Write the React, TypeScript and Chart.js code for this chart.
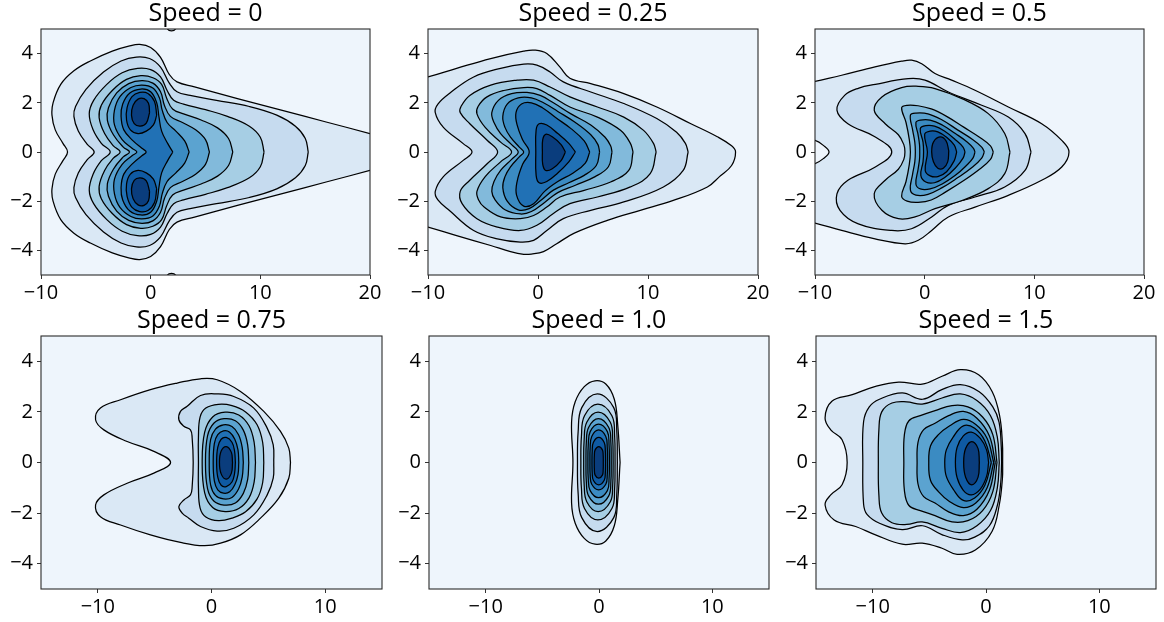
import React, { useEffect, useRef } from 'react';
import { Chart, registerables } from 'chart.js';

Chart.register(...registerables);

// ---------- data ----------
const levelColors = ['#eef5fc', '#dae8f5', '#c6dbef', '#a6cee4', '#82badb', '#5ba3d0', '#3b8bc2', '#2171b5', '#0f5aa3', '#0a3d7d'];
const titles = ['Speed = 0', 'Speed = 0.25', 'Speed = 0.5', 'Speed = 0.75', 'Speed = 1.0', 'Speed = 1.5'];
const yTicks = [-4, -2, 0, 2, 4];
const xTicksTop = [-10, 0, 10, 20];
const xTicksBottom = [-10, 0, 10];
const xRangeTop = [-10, 20];
const xRangeBottom = [-15, 15];
const yRange = [-5, 5];

type Pt = [number, number];

// Speed = 0
const s0L1: Pt[] = [[21,0.63],[20,0.75],[16,1.22],[12,1.69],[8,2.16],[4,2.65],[2.4,2.85],[1.7,3.15],[0.9,3.85],[0,4.25],[-1,4.37],[-2,4.3],[-3.5,4.1],[-5.5,3.7],[-7,3.3],[-8.2,2.75],[-8.9,2.0],[-9.0,1.5],[-8.7,0.9],[-8.0,0.35],[-7.58,0],[-8.0,-0.35],[-8.7,-0.9],[-9.0,-1.5],[-8.9,-2.0],[-8.2,-2.75],[-7,-3.3],[-5.5,-3.7],[-3.5,-4.1],[-2,-4.3],[-1,-4.37],[0,-4.25],[0.9,-3.85],[1.7,-3.15],[2.4,-2.85],[4,-2.65],[8,-2.16],[12,-1.69],[16,-1.22],[20,-0.75],[21,-0.63],[21,0.63]];
const s0L1top: Pt[] = [[1.2,5.4],[1.5,5.02],[1.9,4.92],[2.3,5.02],[2.6,5.4],[1.2,5.4]];
const s0L1bot: Pt[] = [[1.2,-5.4],[1.5,-5.02],[1.9,-4.93],[2.3,-5.02],[2.6,-5.4],[1.2,-5.4]];
const s0L2: Pt[] = [[14.37,0],[14.1,0.55],[13.2,1.05],[11.5,1.5],[9,1.85],[6,2.1],[3.6,2.3],[2.4,2.45],[1.7,2.8],[0.9,3.45],[-0.1,3.8],[-1.3,3.86],[-2.7,3.7],[-4.3,3.25],[-5.9,2.55],[-6.85,1.85],[-7.0,1.45],[-6.6,0.85],[-5.8,0.32],[-5.15,0],[-5.8,-0.32],[-6.6,-0.85],[-7.0,-1.45],[-6.85,-1.85],[-5.9,-2.55],[-4.3,-3.25],[-2.7,-3.7],[-1.3,-3.86],[-0.1,-3.8],[0.9,-3.45],[1.7,-2.8],[2.4,-2.45],[3.6,-2.3],[6,-2.1],[9,-1.85],[11.5,-1.5],[13.2,-1.05],[14.1,-0.55],[14.37,0]];
const s0L3: Pt[] = [[10.34,0],[10.0,0.6],[9.0,1.05],[7.0,1.45],[5.0,1.72],[3.0,1.95],[2.1,2.1],[1.5,2.5],[0.9,3.05],[0,3.35],[-1.2,3.4],[-2.6,3.22],[-4.0,2.75],[-5.2,2.1],[-5.6,1.55],[-5.25,0.9],[-4.5,0.35],[-3.69,0],[-4.5,-0.35],[-5.25,-0.9],[-5.6,-1.55],[-5.2,-2.1],[-4.0,-2.75],[-2.6,-3.22],[-1.2,-3.4],[0,-3.35],[0.9,-3.05],[1.5,-2.5],[2.1,-2.1],[3.0,-1.95],[5.0,-1.72],[7.0,-1.45],[9.0,-1.05],[10.0,-0.6],[10.34,0]];
const s0L4: Pt[] = [[7.49,0],[7.1,0.55],[6.1,0.98],[4.6,1.3],[3.0,1.55],[2.0,1.75],[1.45,2.2],[1.0,2.75],[0.2,3.02],[-0.9,3.1],[-2.2,2.95],[-3.5,2.5],[-4.5,1.9],[-4.7,1.4],[-4.2,0.75],[-3.4,0.25],[-2.78,0],[-3.4,-0.25],[-4.2,-0.75],[-4.7,-1.4],[-4.5,-1.9],[-3.5,-2.5],[-2.2,-2.95],[-0.9,-3.1],[0.2,-3.02],[1.0,-2.75],[1.45,-2.2],[2.0,-1.75],[3.0,-1.55],[4.6,-1.3],[6.1,-0.98],[7.1,-0.55],[7.49,0]];
const s0L5: Pt[] = [[5.36,0],[5.0,0.5],[4.1,0.9],[2.9,1.2],[1.8,1.45],[1.25,1.9],[0.9,2.45],[0.2,2.8],[-0.8,2.9],[-2.0,2.78],[-3.1,2.4],[-3.85,1.8],[-3.95,1.3],[-3.4,0.7],[-2.5,0.2],[-1.93,0],[-2.5,-0.2],[-3.4,-0.7],[-3.95,-1.3],[-3.85,-1.8],[-3.1,-2.4],[-2.0,-2.78],[-0.8,-2.9],[0.2,-2.8],[0.9,-2.45],[1.25,-1.9],[1.8,-1.45],[2.9,-1.2],[4.1,-0.9],[5.0,-0.5],[5.36,0]];
const s0L6: Pt[] = [[3.51,0],[3.1,0.45],[2.3,0.85],[1.5,1.2],[1.05,1.7],[0.8,2.2],[0.2,2.6],[-0.8,2.72],[-1.8,2.62],[-2.8,2.25],[-3.3,1.7],[-3.3,1.1],[-2.6,0.5],[-1.7,0.15],[-1.26,0],[-1.7,-0.15],[-2.6,-0.5],[-3.3,-1.1],[-3.3,-1.7],[-2.8,-2.25],[-1.8,-2.62],[-0.8,-2.72],[0.2,-2.6],[0.8,-2.2],[1.05,-1.7],[1.5,-1.2],[2.3,-0.85],[3.1,-0.45],[3.51,0]];
const s0L7: Pt[] = [[2.02,0],[1.55,0.35],[1.0,0.85],[0.75,1.45],[0.55,2.0],[0.0,2.45],[-0.9,2.56],[-1.9,2.4],[-2.55,1.95],[-2.7,1.45],[-2.45,0.9],[-1.6,0.45],[-0.8,0.15],[-0.41,0],[-0.8,-0.15],[-1.6,-0.45],[-2.45,-0.9],[-2.7,-1.45],[-2.55,-1.95],[-1.9,-2.4],[-0.9,-2.56],[0.0,-2.45],[0.55,-2.0],[0.75,-1.45],[1.0,-0.85],[1.55,-0.35],[2.02,0]];
const s0L8a: Pt[] = [[0.55,1.5],[0.35,2.05],[-0.25,2.38],[-1.0,2.42],[-1.7,2.25],[-2.15,1.8],[-2.2,1.3],[-1.85,0.9],[-1.15,0.75],[-0.4,0.85],[0.25,1.1],[0.55,1.5]];
const s0L8b: Pt[] = [[0.55,-1.5],[0.35,-2.05],[-0.25,-2.38],[-1.0,-2.42],[-1.7,-2.25],[-2.15,-1.8],[-2.2,-1.3],[-1.85,-0.9],[-1.15,-0.75],[-0.4,-0.85],[0.25,-1.1],[0.55,-1.5]];
const s0L9a: Pt[] = [[-0.1,1.6],[-0.2,1.98],[-0.6,2.17],[-1.15,2.15],[-1.6,1.9],[-1.75,1.5],[-1.5,1.15],[-0.95,1.05],[-0.4,1.17],[-0.1,1.6]];
const s0L9b: Pt[] = [[-0.1,-1.6],[-0.2,-1.98],[-0.6,-2.17],[-1.15,-2.15],[-1.6,-1.9],[-1.75,-1.5],[-1.5,-1.15],[-0.95,-1.05],[-0.4,-1.17],[-0.1,-1.6]];

// Speed = 0.25
const s25L1: Pt[] = [[-11,2.95],[-10,3.05],[-7.4,3.4],[-4.3,3.8],[-1.3,4.1],[-0.3,4.14],[0.8,4.0],[2.0,3.45],[2.9,3.0],[4.8,2.78],[7.8,2.37],[10.8,1.83],[13.9,1.15],[16.3,0.62],[17.6,0.25],[17.96,0],[17.6,-0.55],[16.5,-1.0],[15.4,-1.42],[12.3,-1.97],[9.3,-2.37],[6.3,-2.78],[3.3,-3.3],[1.7,-3.73],[0.5,-4.05],[-0.6,-4.15],[-1.3,-4.16],[-2.5,-4.05],[-4.3,-3.8],[-7.4,-3.4],[-10,-3.05],[-11,-2.95],[-11,2.95]];
const s25L2: Pt[] = [[13.65,0],[13.4,0.35],[12.6,0.8],[10.8,1.36],[7.8,1.97],[4.8,2.44],[2.3,2.85],[1.1,3.25],[-0.1,3.53],[-1.3,3.57],[-3.4,3.4],[-5.85,3.05],[-8.0,2.4],[-9.1,1.95],[-9.34,1.6],[-8.6,1.0],[-6.8,0.34],[-6.0,0],[-6.8,-0.34],[-8.6,-1.0],[-9.34,-1.6],[-9.1,-1.95],[-8.0,-2.4],[-5.85,-3.19],[-3.7,-3.53],[-1.6,-3.66],[-0.4,-3.59],[0.8,-3.19],[2.3,-2.71],[4.8,-2.37],[7.8,-2.03],[11.4,-1.42],[13.2,-0.75],[13.65,0]];
const s25L3: Pt[] = [[10.74,0],[10.5,0.35],[9.6,0.88],[7.8,1.42],[5.4,1.83],[2.9,2.24],[1.1,2.64],[-0.4,2.92],[-1.9,2.92],[-4.3,2.72],[-6.2,2.3],[-7.0,1.85],[-7.07,1.6],[-6.2,1.15],[-4.6,0.47],[-3.67,0],[-4.6,-0.47],[-6.2,-1.15],[-7.07,-1.6],[-6.9,-2.1],[-5.55,-2.71],[-3.7,-3.05],[-1.6,-3.19],[-0.1,-2.98],[1.4,-2.5],[2.9,-2.1],[5.4,-1.83],[8.4,-1.42],[10.2,-0.88],[10.74,0]];
const s25L4: Pt[] = [[8.64,0],[8.4,0.35],[7.5,0.88],[5.4,1.42],[2.9,1.83],[1.1,2.3],[-0.1,2.58],[-1.3,2.62],[-3.1,2.5],[-4.64,2.24],[-5.45,1.85],[-5.55,1.55],[-4.8,1.0],[-3.4,0.4],[-2.4,0],[-3.4,-0.4],[-4.8,-1.0],[-5.55,-1.6],[-5.4,-1.95],[-4.9,-2.24],[-3.4,-2.64],[-1.6,-2.71],[-0.4,-2.58],[0.8,-2.24],[2.0,-1.83],[4.2,-1.56],[6.6,-1.22],[8.25,-0.75],[8.64,0]];
const s25L5: Pt[] = [[6.73,0],[6.6,0.25],[6.1,0.6],[4.8,1.1],[3.0,1.55],[1.4,2.0],[0.2,2.3],[-1.0,2.42],[-2.4,2.37],[-3.6,2.1],[-4.2,1.6],[-4.0,1.2],[-3.4,0.75],[-2.4,0.3],[-1.8,0],[-2.4,-0.3],[-3.4,-0.75],[-4.0,-1.2],[-4.2,-1.6],[-3.9,-1.95],[-3.0,-2.35],[-1.6,-2.52],[-0.6,-2.42],[0.6,-2.05],[1.8,-1.65],[3.4,-1.35],[5.2,-1.0],[6.4,-0.6],[6.73,0]];
const s25L6: Pt[] = [[5.6,0],[5.45,0.3],[4.8,0.7],[3.4,1.2],[1.8,1.65],[0.5,2.0],[-0.6,2.2],[-1.8,2.2],[-2.8,1.95],[-3.2,1.45],[-3.0,1.0],[-2.5,0.6],[-1.7,0.2],[-1.3,0],[-1.7,-0.2],[-2.5,-0.6],[-3.0,-1.0],[-3.2,-1.45],[-2.8,-2.0],[-1.8,-2.35],[-0.8,-2.3],[0.3,-1.95],[1.4,-1.55],[2.8,-1.25],[4.2,-0.95],[5.3,-0.55],[5.6,0]];
const s25L7: Pt[] = [[4.7,0],[4.2,0.45],[3.0,0.95],[1.6,1.4],[0.4,1.8],[-0.6,2.0],[-1.5,1.95],[-2.0,1.6],[-1.9,1.1],[-1.4,0.5],[-0.8,0],[-1.4,-0.5],[-1.9,-1.2],[-1.95,-1.75],[-1.3,-2.2],[-0.4,-2.1],[0.6,-1.6],[1.8,-1.2],[3.2,-0.85],[4.3,-0.45],[4.7,0]];
const s25L8: Pt[] = [[3.4,0],[2.8,0.35],[1.8,0.75],[0.8,1.1],[0.1,1.15],[-0.17,0.9],[-0.2,0],[-0.17,-0.95],[0.1,-1.25],[0.8,-1.2],[1.8,-0.85],[2.8,-0.4],[3.4,0]];
const s25L9: Pt[] = [[2.49,0],[2.1,0.3],[1.3,0.62],[0.7,0.72],[0.43,0.5],[0.4,0],[0.43,-0.5],[0.7,-0.75],[1.3,-0.68],[2.1,-0.35],[2.49,0]];

// Speed = 0.5
const s5L1: Pt[] = [[-11,2.75],[-10,2.87],[-7.57,3.12],[-4.53,3.46],[-2.1,3.69],[-1.19,3.73],[-0.27,3.59],[0.94,3.19],[2.46,2.92],[4.59,2.51],[7.63,1.83],[10.67,1.15],[12.5,0.47],[13.16,0],[12.5,-0.61],[10.67,-1.15],[7.63,-1.76],[4.59,-2.24],[2.16,-2.64],[0.64,-3.19],[-0.58,-3.59],[-1.79,-3.73],[-4.53,-3.53],[-7.57,-3.19],[-10,-2.89],[-11,-2.8],[-11,-0.5],[-10,-0.47],[-9.24,-0.27],[-8.72,0],[-9.24,0.27],[-10,0.47],[-11,0.5],[-11,2.75]];
const s5L2: Pt[] = [[9.7,0],[9.15,0.75],[7.63,1.42],[5.2,1.9],[2.16,2.44],[0.03,2.92],[-1.5,2.98],[-4.5,2.75],[-6.0,2.6],[-7.3,2.3],[-8.0,1.7],[-7.0,1.15],[-4.5,0.61],[-3.0,0],[-4.5,-0.61],[-7.0,-1.15],[-8.0,-1.7],[-7.72,-2.37],[-6.05,-2.92],[-3.0,-3.19],[-1.2,-3.12],[0.64,-2.64],[2.16,-2.17],[4.59,-1.83],[7.3,-1.42],[9.15,-0.75],[9.7,0]];
const s5L3: Pt[] = [[7.78,0],[7.3,0.75],[5.8,1.56],[3.4,2.17],[0.94,2.58],[-0.58,2.67],[-2.1,2.62],[-3.9,2.24],[-4.6,1.7],[-3.6,1.15],[-2.4,0.7],[-1.9,0.3],[-1.8,0],[-1.9,-0.3],[-2.4,-0.7],[-3.6,-1.15],[-4.6,-1.7],[-3.9,-2.37],[-2.4,-2.71],[-0.88,-2.64],[0.94,-2.3],[3.4,-1.97],[5.8,-1.49],[7.3,-0.88],[7.78,0]];
const s5L4: Pt[] = [[6.26,0],[6.0,0.25],[5.0,0.6],[3.6,1.0],[2.0,1.45],[0.6,1.75],[-0.6,1.88],[-1.6,1.9],[-2.1,1.8],[-1.7,1.2],[-1.4,0.5],[-1.3,0],[-1.4,-0.5],[-1.7,-1.2],[-2.1,-1.8],[-1.6,-2.0],[-0.6,-2.05],[0.6,-1.95],[2.0,-1.6],[3.6,-1.15],[5.0,-0.7],[6.0,-0.3],[6.26,0]];
const s5L5: Pt[] = [[5.44,0],[5.2,0.2],[4.4,0.5],[3.0,0.9],[1.6,1.3],[0.3,1.55],[-0.8,1.58],[-1.3,1.5],[-1.1,0.9],[-0.9,0.4],[-0.85,0],[-0.9,-0.4],[-1.1,-0.9],[-1.3,-1.55],[-0.8,-1.75],[0.3,-1.72],[1.6,-1.45],[3.0,-1.05],[4.4,-0.6],[5.2,-0.25],[5.44,0]];
const s5L6: Pt[] = [[4.59,0],[4.45,0.15],[3.9,0.4],[2.8,0.75],[1.6,1.1],[0.5,1.3],[-0.4,1.3],[-0.8,1.2],[-0.6,0.7],[-0.47,0.3],[-0.45,0],[-0.47,-0.3],[-0.6,-0.7],[-0.8,-1.3],[-0.4,-1.5],[0.5,-1.5],[1.6,-1.3],[2.8,-0.95],[3.8,-0.55],[4.4,-0.25],[4.59,0]];
const s5L7: Pt[] = [[3.68,0],[3.5,0.2],[2.8,0.5],[1.8,0.85],[0.9,1.05],[0.1,1.07],[-0.4,0.95],[-0.15,0.4],[-0.1,0],[-0.15,-0.4],[-0.35,-0.95],[0.1,-1.22],[0.9,-1.25],[1.8,-1.05],[2.8,-0.65],[3.5,-0.25],[3.68,0]];
const s5L8: Pt[] = [[2.92,0],[2.7,0.28],[2.0,0.6],[1.2,0.82],[0.5,0.85],[0.0,0.72],[0.25,0],[0.05,-0.75],[0.5,-0.97],[1.2,-1.0],[2.0,-0.8],[2.7,-0.35],[2.92,0]];
const s5L9: Pt[] = [[2.2,0.05],[1.95,0.45],[1.4,0.61],[0.8,0.4],[0.64,0],[0.8,-0.4],[1.2,-0.66],[1.7,-0.66],[2.1,-0.4],[2.2,0.05]];

// Speed = 0.75
const s75L1: Pt[] = [[6.95,0],[6.8,0.57],[6.07,1.23],[4.6,2.02],[2.55,2.81],[0.5,3.27],[-0.97,3.31],[-3.02,3.14],[-5.37,2.88],[-8.0,2.48],[-9.77,2.15],[-10.2,1.69],[-9.47,1.29],[-7.42,0.83],[-5.07,0.44],[-3.6,0],[-5.07,-0.42],[-7.42,-0.82],[-9.47,-1.28],[-10.2,-1.68],[-9.77,-2.14],[-8.0,-2.47],[-5.37,-2.86],[-2.73,-3.16],[-0.67,-3.29],[0.8,-3.19],[2.55,-2.86],[4.31,-2.2],[5.92,-1.41],[6.8,-0.62],[6.95,0]];
const s75L2: Pt[] = [[5.48,0],[5.43,0.7],[4.9,1.36],[3.72,2.15],[1.96,2.61],[0.5,2.71],[-0.97,2.65],[-2.14,2.22],[-2.73,2.02],[-2.87,1.69],[-2.43,1.43],[-1.85,1.29],[-1.7,0.96],[-1.61,0],[-1.7,-0.95],[-1.85,-1.28],[-2.43,-1.48],[-2.87,-1.74],[-2.58,-2.0],[-2.0,-2.2],[-0.97,-2.53],[0.5,-2.71],[1.96,-2.6],[3.72,-2.07],[4.9,-1.28],[5.43,-0.62],[5.48,0]];
const s75L3: Pt[] = [[4.6,0],[4.5,0.8],[4.0,1.5],[3.0,2.0],[1.8,2.25],[0.6,2.3],[-0.5,2.15],[-1.0,1.8],[-1.15,1.0],[-1.15,0],[-1.15,-1.0],[-1.0,-1.8],[-0.5,-2.15],[0.6,-2.3],[1.8,-2.2],[3.0,-1.95],[4.0,-1.45],[4.5,-0.8],[4.6,0]];
const s75L4: Pt[] = [[3.87,0],[3.75,0.8],[3.3,1.45],[2.4,1.88],[1.2,1.99],[0.1,1.8],[-0.6,1.2],[-0.82,0],[-0.6,-1.2],[0.1,-1.78],[1.2,-1.94],[2.4,-1.82],[3.3,-1.4],[3.75,-0.78],[3.87,0]];
const s75L5: Pt[] = [[3.28,0],[3.18,0.7],[2.8,1.28],[2.1,1.65],[1.1,1.73],[0.2,1.55],[-0.35,1.05],[-0.53,0],[-0.35,-1.03],[0.2,-1.52],[1.1,-1.68],[2.1,-1.6],[2.8,-1.22],[3.18,-0.68],[3.28,0]];
const s75L6: Pt[] = [[2.8,0],[2.7,0.6],[2.38,1.1],[1.8,1.42],[1.05,1.49],[0.35,1.32],[-0.08,0.9],[-0.2,0],[-0.08,-0.88],[0.35,-1.3],[1.05,-1.44],[1.8,-1.38],[2.38,-1.05],[2.7,-0.58],[2.8,0]];
const s75L7: Pt[] = [[2.4,0],[2.33,0.5],[2.05,0.92],[1.6,1.2],[1.05,1.25],[0.55,1.1],[0.25,0.75],[0.15,0],[0.25,-0.73],[0.55,-1.08],[1.05,-1.21],[1.6,-1.16],[2.05,-0.88],[2.33,-0.48],[2.4,0]];
const s75L8: Pt[] = [[2.1,0],[2.03,0.45],[1.8,0.8],[1.3,0.99],[0.85,0.92],[0.55,0.6],[0.45,0],[0.55,-0.58],[0.85,-0.9],[1.3,-0.95],[1.8,-0.77],[2.03,-0.43],[2.1,0]];
const s75L9: Pt[] = [[1.85,0],[1.75,0.4],[1.3,0.63],[0.85,0.45],[0.7,0],[0.85,-0.45],[1.3,-0.66],[1.75,-0.42],[1.85,0]];

// Speed = 1.0
const s1L1: Pt[] = [[1.86,0],[1.65,1.5],[1.35,2.5],[0.6,3.1],[-0.35,3.23],[-1.3,3.0],[-2.1,2.4],[-2.42,1.6],[-2.3,0],[-2.42,-1.6],[-2.1,-2.4],[-1.3,-3.0],[-0.35,-3.23],[0.6,-3.1],[1.35,-2.5],[1.65,-1.5],[1.86,0]];
const s1L2: Pt[] = [[1.62,0],[1.57,1.22],[1.3,2.17],[-0.15,2.71],[-1.52,2.17],[-1.84,1.22],[-1.9,0],[-1.84,-1.23],[-1.52,-2.18],[-0.15,-2.73],[1.3,-2.18],[1.57,-1.23],[1.62,0]];
const s1L3: Pt[] = [[1.42,0],[1.38,1.04],[1.14,1.85],[-0.1,2.31],[-1.28,1.85],[-1.55,1.04],[-1.6,0],[-1.55,-1.02],[-1.28,-1.82],[-0.1,-2.27],[1.14,-1.82],[1.38,-1.02],[1.42,0]];
const s1L4: Pt[] = [[1.25,0],[1.21,0.9],[1.0,1.59],[-0.08,1.99],[-1.08,1.59],[-1.31,0.9],[-1.35,0],[-1.31,-0.87],[-1.08,-1.55],[-0.08,-1.94],[1.0,-1.55],[1.21,-0.87],[1.25,0]];
const s1L5: Pt[] = [[1.08,0],[1.05,0.78],[0.86,1.38],[-0.05,1.73],[-0.92,1.38],[-1.12,0.78],[-1.15,0],[-1.12,-0.74],[-0.92,-1.32],[-0.05,-1.65],[0.86,-1.32],[1.05,-0.74],[1.08,0]];
const s1L6: Pt[] = [[0.92,0],[0.89,0.68],[0.74,1.22],[-0.04,1.52],[-0.78,1.22],[-0.95,0.68],[-0.98,0],[-0.95,-0.63],[-0.78,-1.11],[-0.04,-1.39],[0.74,-1.11],[0.89,-0.63],[0.92,0]];
const s1L7: Pt[] = [[0.75,0],[0.73,0.58],[0.6,1.03],[-0.03,1.29],[-0.64,1.03],[-0.78,0.58],[-0.8,0],[-0.78,-0.49],[-0.64,-0.86],[-0.03,-1.08],[0.6,-0.86],[0.73,-0.49],[0.75,0]];
const s1L8: Pt[] = [[0.58,0],[0.56,0.45],[0.46,0.79],[-0.02,0.99],[-0.5,0.79],[-0.6,0.45],[-0.62,0],[-0.6,-0.4],[-0.5,-0.7],[-0.02,-0.88],[0.46,-0.7],[0.56,-0.4],[0.58,0]];
const s1L9: Pt[] = [[0.38,0],[0.37,0.28],[0.3,0.5],[-0.02,0.63],[-0.34,0.5],[-0.41,0.28],[-0.42,0],[-0.41,-0.28],[-0.34,-0.5],[-0.02,-0.62],[0.3,-0.5],[0.37,-0.28],[0.38,0]];

// Speed = 1.5
const s15L1: Pt[] = [[1.47,0],[1.45,0.75],[1.2,1.85],[0.55,2.8],[-0.65,3.47],[-2.26,3.67],[-3.88,3.41],[-5.64,3.1],[-7.7,3.18],[-9.75,3.01],[-11.8,2.68],[-13.6,2.42],[-14.2,1.76],[-13.7,1.29],[-12.7,0.9],[-12.25,0],[-12.7,-0.88],[-13.7,-1.28],[-14.2,-1.68],[-13.4,-2.27],[-11.5,-2.53],[-9.75,-2.86],[-7.4,-3.23],[-5.64,-3.19],[-3.88,-3.39],[-2.55,-3.63],[-0.94,-3.46],[0.53,-2.73],[1.17,-1.68],[1.45,-0.62],[1.47,0]];
const s15L2: Pt[] = [[1.38,0],[1.35,0.6],[1.15,1.6],[0.6,2.2],[-0.6,2.8],[-2.26,3.08],[-3.9,2.88],[-5.6,2.5],[-7.4,2.75],[-9.4,2.5],[-10.3,2.2],[-10.8,1.62],[-10.87,0],[-10.8,-1.65],[-10.5,-2.05],[-9.4,-2.4],[-7.4,-2.65],[-5.6,-2.5],[-3.9,-2.85],[-2.1,-3.06],[-1.0,-2.95],[0.3,-2.5],[1.0,-1.7],[1.3,-0.8],[1.38,0]];
const s15L3: Pt[] = [[1.17,0],[1.0,1.0],[0.4,1.85],[-0.8,2.45],[-2.26,2.71],[-3.88,2.55],[-5.64,2.31],[-7.0,2.4],[-8.3,2.35],[-9.2,2.0],[-9.45,1.3],[-9.5,0],[-9.45,-1.3],[-9.2,-2.0],[-8.3,-2.38],[-7.0,-2.45],[-5.64,-2.35],[-3.88,-2.6],[-2.26,-2.77],[-0.8,-2.5],[0.4,-1.9],[1.0,-1.0],[1.17,0]];
const s15L4: Pt[] = [[0.97,0],[0.6,1.1],[-0.3,1.8],[-1.6,2.2],[-3.0,2.25],[-4.5,2.05],[-5.8,1.85],[-6.8,1.65],[-7.2,1.1],[-7.25,0],[-7.2,-1.1],[-6.8,-1.7],[-5.8,-1.9],[-4.5,-2.1],[-3.0,-2.35],[-1.6,-2.3],[-0.3,-1.9],[0.6,-1.15],[0.97,0]];
const s15L5: Pt[] = [[0.82,0],[0.3,1.05],[-0.8,1.75],[-2.0,2.02],[-3.3,1.85],[-4.5,1.55],[-5.5,1.3],[-6.0,0.8],[-6.08,0],[-6.0,-0.85],[-5.5,-1.35],[-4.5,-1.6],[-3.3,-1.95],[-2.0,-2.1],[-0.8,-1.85],[0.3,-1.1],[0.82,0]];
const s15L6: Pt[] = [[0.68,0],[0.1,0.95],[-0.9,1.5],[-2.0,1.7],[-3.2,1.45],[-4.2,1.1],[-4.9,0.65],[-5.05,0],[-4.9,-0.7],[-4.2,-1.15],[-3.2,-1.55],[-2.0,-1.78],[-0.9,-1.6],[0.1,-1.0],[0.68,0]];
const s15L7: Pt[] = [[0.47,0],[-0.1,0.85],[-1.0,1.35],[-2.0,1.45],[-2.9,1.0],[-3.5,0.5],[-3.64,0],[-3.5,-0.55],[-2.9,-1.05],[-2.0,-1.5],[-1.0,-1.4],[-0.1,-0.9],[0.47,0]];
const s15L8: Pt[] = [[0.23,0],[0.05,0.5],[-0.5,0.95],[-1.3,1.2],[-2.0,1.05],[-2.55,0.6],[-2.7,0],[-2.55,-0.6],[-2.0,-1.1],[-1.3,-1.28],[-0.5,-1.05],[0.05,-0.55],[0.23,0]];
const s15L9: Pt[] = [[-0.59,0],[-0.7,0.55],[-1.25,0.83],[-1.8,0.55],[-1.97,0],[-1.8,-0.58],[-1.25,-0.88],[-0.7,-0.58],[-0.59,0]];

// level index + polygon, per panel
const panelContours: [number, Pt[]][][] = [
  [[1, s0L1], [1, s0L1top], [1, s0L1bot], [2, s0L2], [3, s0L3], [4, s0L4], [5, s0L5], [6, s0L6], [7, s0L7], [8, s0L8a], [8, s0L8b], [9, s0L9a], [9, s0L9b]],
  [[1, s25L1], [2, s25L2], [3, s25L3], [4, s25L4], [5, s25L5], [6, s25L6], [7, s25L7], [8, s25L8], [9, s25L9]],
  [[1, s5L1], [2, s5L2], [3, s5L3], [4, s5L4], [5, s5L5], [6, s5L6], [7, s5L7], [8, s5L8], [9, s5L9]],
  [[1, s75L1], [2, s75L2], [3, s75L3], [4, s75L4], [5, s75L5], [6, s75L6], [7, s75L7], [8, s75L8], [9, s75L9]],
  [[1, s1L1], [2, s1L2], [3, s1L3], [4, s1L4], [5, s1L5], [6, s1L6], [7, s1L7], [8, s1L8], [9, s1L9]],
  [[1, s15L1], [2, s15L2], [3, s15L3], [4, s15L4], [5, s15L5], [6, s15L6], [7, s15L7], [8, s15L8], [9, s15L9]],
];

// ---------- layout / style ----------
const FONT = "'Open Sans', 'DejaVu Sans', sans-serif";
const AXIS_W = 41;
const TITLE_H = 30;
const XAXIS_H = 32;
const PAD_R = 20;
const plotBoxes = [
  { left: 41, top: 29, width: 329, height: 246 },
  { left: 428, top: 29, width: 330, height: 246 },
  { left: 815, top: 29, width: 329, height: 246 },
  { left: 41, top: 336, width: 341, height: 253 },
  { left: 429, top: 336, width: 340, height: 253 },
  { left: 816, top: 336, width: 340, height: 253 },
];

const fmt = (v: number | string) => {
  const n = Number(v);
  return n < 0 ? '\u2212' + Math.abs(n) : String(n);
};

const framePlugin = {
  id: 'frameBg',
  beforeDraw(chart: any) {
    const { ctx, chartArea: a } = chart;
    ctx.save();
    ctx.fillStyle = levelColors[0];
    ctx.fillRect(a.left, a.top, a.right - a.left, a.bottom - a.top);
    ctx.restore();
  },
  afterDraw(chart: any) {
    const { ctx, chartArea: a } = chart;
    ctx.save();
    ctx.strokeStyle = '#2b2b2b';
    ctx.lineWidth = 1.1;
    ctx.strokeRect(a.left, a.top, a.right - a.left, a.bottom - a.top);
    ctx.restore();
  },
};

function Panel({ idx }: { idx: number }) {
  const ref = useRef<HTMLCanvasElement>(null);
  const box = plotBoxes[idx];
  const top = idx < 3;
  const W = AXIS_W + box.width + PAD_R;
  const H = TITLE_H + box.height + XAXIS_H;

  useEffect(() => {
    if (!ref.current) return;
    const xr = top ? xRangeTop : xRangeBottom;
    const xt = top ? xTicksTop : xTicksBottom;
    const datasets = panelContours[idx].map(([lvl, pts]) => ({
      data: pts.map(([x, y]) => ({ x, y })),
      showLine: true,
      fill: 'shape',
      backgroundColor: levelColors[lvl],
      borderColor: '#000',
      borderWidth: 1.25,
      pointRadius: 0,
      pointHoverRadius: 0,
      tension: 0.4,
      capBezierPoints: false,
      borderJoinStyle: 'round',
      order: 10 - lvl,
    }));
    const tickFont = { family: FONT, size: 20 };
    const chart = new Chart(ref.current, {
      type: 'scatter',
      data: { datasets } as any,
      options: {
        responsive: false,
        animation: false,
        events: [],
        layout: { padding: { left: 0, right: PAD_R, top: 0, bottom: 0 } },
        plugins: {
          legend: { display: false },
          tooltip: { enabled: false },
          title: {
            display: true,
            text: titles[idx],
            color: '#000',
            fullSize: false,
            font: { family: FONT, size: 25, weight: 'normal' },
            padding: { top: 0, bottom: 0 },
          },
        },
        scales: {
          x: {
            type: 'linear',
            min: xr[0],
            max: xr[1],
            afterBuildTicks: (s: any) => { s.ticks = xt.map((v) => ({ value: v })); },
            afterFit: (s: any) => { s.height = XAXIS_H; },
            grid: { display: true, drawOnChartArea: false, drawTicks: true, tickLength: 4, color: '#333' },
            border: { display: false },
            ticks: { font: tickFont, color: '#000', padding: 2, maxRotation: 0, autoSkip: false, callback: fmt },
          },
          y: {
            type: 'linear',
            min: yRange[0],
            max: yRange[1],
            afterBuildTicks: (s: any) => { s.ticks = yTicks.map((v) => ({ value: v })); },
            afterFit: (s: any) => { s.width = AXIS_W; },
            grid: { display: true, drawOnChartArea: false, drawTicks: true, tickLength: 4, color: '#333' },
            border: { display: false },
            ticks: { font: tickFont, color: '#000', padding: 4, autoSkip: false, callback: fmt },
          },
        },
      } as any,
      plugins: [framePlugin],
    });
    return () => chart.destroy();
  }, [idx]);

  return (
    <div style={{ position: 'absolute', left: box.left - AXIS_W, top: box.top - TITLE_H, width: W, height: H }}>
      <canvas ref={ref} width={W} height={H} style={{ display: 'block', width: W, height: H }} />
    </div>
  );
}

export default function App() {
  return (
    <div style={{ position: 'absolute', left: 0, top: 0, width: 1164, height: 622, background: '#fff', overflow: 'hidden' }}>
      {[0, 1, 2, 3, 4, 5].map((i) => (
        <Panel key={i} idx={i} />
      ))}
    </div>
  );
}
